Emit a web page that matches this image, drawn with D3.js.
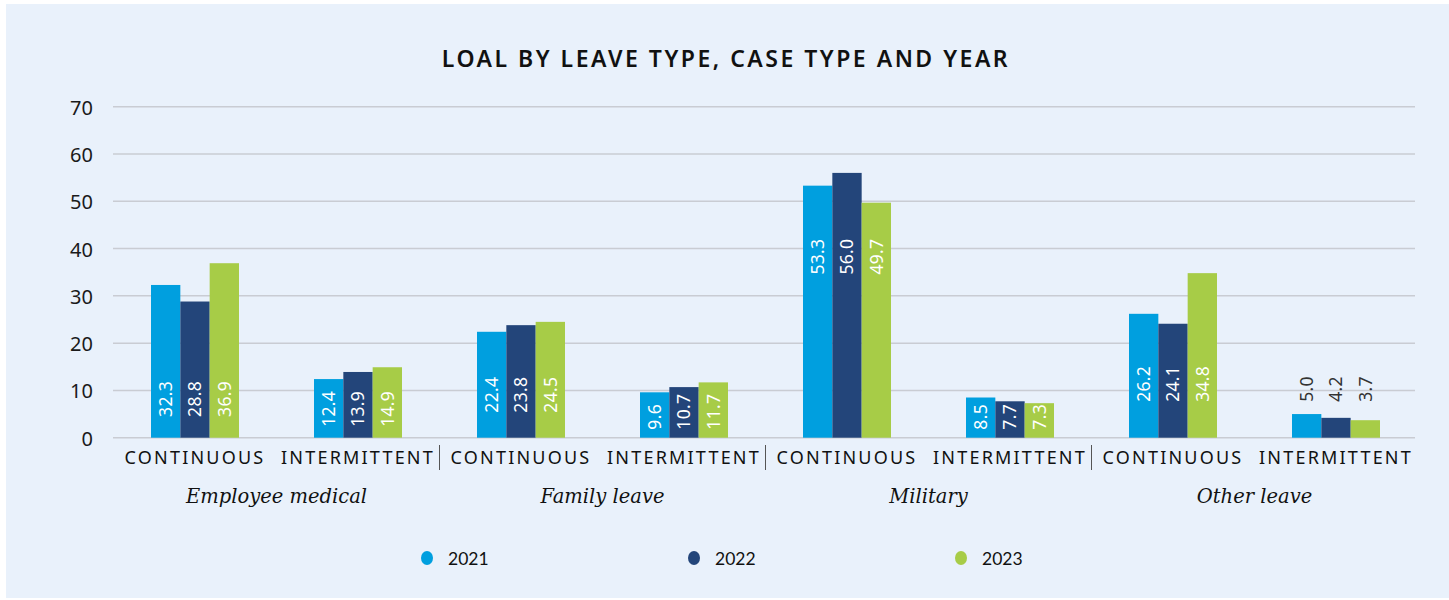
<!DOCTYPE html>
<html>
<head>
<meta charset="utf-8">
<script src="https://cdn.jsdelivr.net/npm/d3@7"></script>
<style>
  body { margin: 0; background: #ffffff; }
  svg { display: block; }
</style>
</head>
<body>
<div id="chart"></div>
<script>
// Chart data
var leave_types = ['Employee medical', 'Family leave', 'Military', 'Other leave'];
var case_types = ['CONTINUOUS', 'INTERMITTENT'];
var years = ['2021', '2022', '2023'];
var year_colors = ['#009fdf', '#23457a', '#a7cc47'];

// one row per leave type / case type, values in year order
var values_2021 = [32.3, 12.4, 22.4, 9.6, 53.3, 8.5, 26.2, 5.0];
var values_2022 = [28.8, 13.9, 23.8, 10.7, 56.0, 7.7, 24.1, 4.2];
var values_2023 = [36.9, 14.9, 24.5, 11.7, 49.7, 7.3, 34.8, 3.7];

// where the rotated value labels start, in value units (the source places them by hand)
var label_from = [4.4, 2.3, 5.3, 1.7, 34.5, 1.7, 7.6, 7.6];
var label_outside = [false, false, false, false, false, false, false, true];

var y_ticks = [0, 10, 20, 30, 40, 50, 60, 70];

var width = 1449, height = 600;

var svg = d3.select('#chart').append('svg')
  .attr('width', width)
  .attr('height', height);

// Panel background
svg.append('rect')
  .attr('x', 6).attr('y', 4)
  .attr('width', width - 6).attr('height', 594)
  .attr('fill', '#e9f1fb');

// Title
svg.append('text')
  .attr('x', 726).attr('y', 67)
  .attr('text-anchor', 'middle')
  .style('font-family', '"Noto Sans", sans-serif')
  .style('font-weight', 600)
  .style('font-size', '23px')
  .style('letter-spacing', '2.5px')
  .style('fill', '#111')
  .text('LOAL BY LEAVE TYPE, CASE TYPE AND YEAR');

// Build the category list: leave type x case type
var categories = [];
leave_types.forEach(function(lt) {
  case_types.forEach(function(ct) { categories.push(lt + '|' + ct); });
});

var rows = categories.map(function(c, i) {
  return {key: c, leave: c.split('|')[0], kase: c.split('|')[1],
          vals: [values_2021[i], values_2022[i], values_2023[i]],
          label_from: label_from[i], outside: label_outside[i]};
});

var x0 = d3.scaleBand().domain(categories).range([113.5, 1417.5]).padding(0);
var x1 = d3.scaleBand().domain(years)
  .range([(x0.bandwidth() - 88) / 2, (x0.bandwidth() + 88) / 2]).padding(0);
var y = d3.scaleLinear().domain([0, 70]).range([437.7, 106.7]);

// Gridlines
svg.append('g').selectAll('line')
  .data(y_ticks).enter().append('line')
  .attr('x1', 113).attr('x2', 1415)
  .attr('y1', function(d) { return y(d); })
  .attr('y2', function(d) { return y(d); })
  .attr('stroke', '#c9ccd3')
  .attr('stroke-width', 1.5);

// Y axis labels
svg.append('g').selectAll('text')
  .data(y_ticks).enter().append('text')
  .attr('x', 93)
  .attr('y', function(d) { return y(d) + 8; })
  .attr('text-anchor', 'end')
  .style('font-family', '"Noto Sans", sans-serif')
  .style('font-size', '20px')
  .style('fill', '#1a1a1a')
  .text(function(d) { return d; });

// Bars
var groups = svg.append('g').selectAll('g')
  .data(rows).enter().append('g')
  .attr('transform', function(d) { return 'translate(' + x0(d.key) + ',0)'; });

groups.selectAll('rect')
  .data(function(d) { return d.vals.map(function(v, j) { return {v: v, year: years[j], j: j}; }); })
  .enter().append('rect')
  .attr('x', function(d) { return x1(d.year); })
  .attr('width', x1.bandwidth())
  .attr('y', function(d) { return y(d.v); })
  .attr('height', function(d) { return y(0) - y(d.v); })
  .attr('fill', function(d) { return year_colors[d.j]; });

// Rotated value labels
groups.selectAll('text.value')
  .data(function(d) {
    return d.vals.map(function(v, j) {
      return {v: v, year: years[j], from: d.label_from, outside: d.outside};
    });
  })
  .enter().append('text')
  .attr('class', 'value')
  .attr('transform', function(d) {
    return 'translate(' + (x1(d.year) + x1.bandwidth() / 2) + ',' + y(d.from) + ') rotate(-90)';
  })
  .attr('dy', '0.36em')
  .attr('text-anchor', 'start')
  .style('font-family', '"Noto Sans", sans-serif')
  .style('font-size', '17.5px')
  .style('letter-spacing', '0.3px')
  .style('fill', function(d) { return d.outside ? '#333' : '#ffffff'; })
  .text(function(d) { return d3.format('.1f')(d.v); });

// Case type labels
svg.append('g').selectAll('text')
  .data(rows).enter().append('text')
  .attr('x', function(d) { return x0(d.key) + x0.bandwidth() / 2; })
  .attr('y', 464)
  .attr('text-anchor', 'middle')
  .style('font-family', '"Noto Sans", sans-serif')
  .style('font-size', '18px')
  .style('letter-spacing', '2.2px')
  .style('fill', '#111')
  .text(function(d) { return d.kase; });

// Separators between leave types
svg.append('g').selectAll('line')
  .data(leave_types.slice(1)).enter().append('line')
  .attr('x1', function(d) { return x0(d + '|' + case_types[0]); })
  .attr('x2', function(d) { return x0(d + '|' + case_types[0]); })
  .attr('y1', 445).attr('y2', 470)
  .attr('stroke', '#555')
  .attr('stroke-width', 1);

// Leave type labels
svg.append('g').selectAll('text')
  .data(leave_types).enter().append('text')
  .attr('x', function(d) { return x0(d + '|' + case_types[1]); })
  .attr('y', 503)
  .attr('text-anchor', 'middle')
  .style('font-family', '"DejaVu Serif", serif')
  .style('font-style', 'italic')
  .style('font-size', '19.5px')
  .style('fill', '#111')
  .text(function(d) { return d; });

// Legend
var legend_x = d3.scalePoint().domain(years).range([427, 961]);
var legend = svg.append('g').selectAll('g')
  .data(years).enter().append('g')
  .attr('transform', function(d) { return 'translate(' + legend_x(d) + ',558)'; });

legend.append('ellipse')
  .attr('rx', 6).attr('ry', 7)
  .attr('fill', function(d, i) { return year_colors[i]; });

legend.append('text')
  .attr('x', 21).attr('y', 7)
  .style('font-family', 'Lato, sans-serif')
  .style('font-size', '17.5px')
  .style('fill', '#111')
  .text(function(d) { return d; });
</script>
</body>
</html>
